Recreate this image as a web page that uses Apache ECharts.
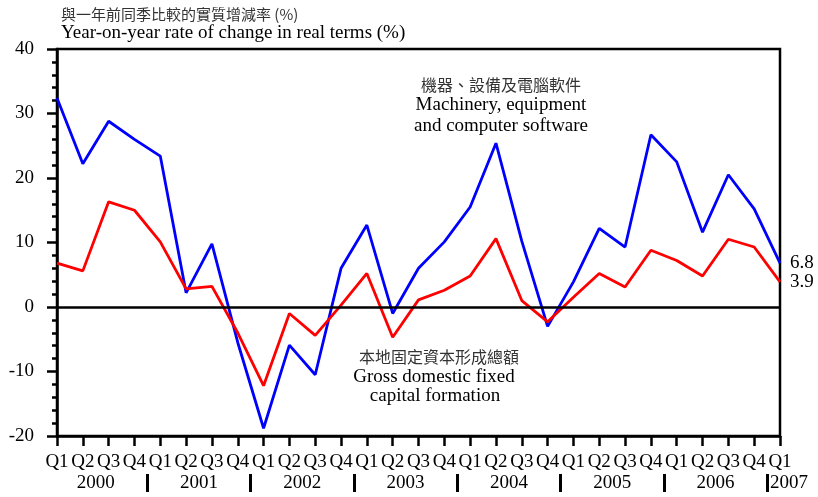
<!DOCTYPE html>
<html>
<head>
<meta charset="utf-8">
<script src="https://cdn.jsdelivr.net/npm/echarts@6/dist/echarts.min.js"></script>
<style>
  html, body { margin: 0; padding: 0; background: #fff; }
  #chart { width: 818px; height: 497px; }
</style>
</head>
<body>
<div id="chart"></div>
<script>
// quarters 2000 Q1 .. 2007 Q1
var quarters = ['Q1','Q2','Q3','Q4','Q1','Q2','Q3','Q4','Q1','Q2','Q3','Q4','Q1','Q2','Q3','Q4',
                'Q1','Q2','Q3','Q4','Q1','Q2','Q3','Q4','Q1','Q2','Q3','Q4','Q1'];
var years = ['2000','2001','2002','2003','2004','2005','2006','2007'];

// machinery, equipment and computer software (%)
var machinery = [32.4, 22.2, 28.8, 26.0, 23.4, 2.2, 9.8, -5.5, -18.8, -5.9, -10.5, 6.0, 12.7, -1.0, 6.0,
                 10.1, 15.5, 25.4, 10.2, -3.0, 3.9, 12.2, 9.3, 26.7, 22.5, 11.6, 20.5, 15.2, 6.8];
// gross domestic fixed capital formation (%)
var gdfcf = [6.8, 5.6, 16.3, 15.0, 10.1, 2.8, 3.2, -4.0, -12.2, -1.0, -4.4, 0.3, 5.2, -4.7, 1.1,
             2.6, 4.8, 10.6, 1.0, -2.3, 1.5, 5.2, 3.1, 8.8, 7.2, 4.8, 10.5, 9.3, 3.9];

var serif = 'Liberation Serif';
var cjk = 'Noto Sans CJK TC';

// half-quarter slots for the year row: labels in middle of each year, bars at year boundaries
var halfSlots = [];
for (var i = 0; i < quarters.length * 2 - 1; i++) halfSlots.push(String(i));

function yearLabel(idx) {
  idx = Number(idx);
  if (idx === halfSlots.length - 1) return '{last|' + years[years.length - 1] + '}';
  if (idx % 8 === 3) return years[(idx - 3) / 8];
  return '';
}

function note(x, y, text, cn) {
  return {
    type: 'text', x: x, y: y,
    style: {
      text: text, align: 'center', verticalAlign: 'middle',
      font: cn ? '16px "' + cjk + '"' : '19px "' + serif + '"',
      fill: cn ? '#333' : '#000'
    }
  };
}

var el = echarts.init(document.getElementById('chart'));
var opt = {
  animation: false,
  title: {
    text: '與一年前同季比較的實質增減率 (%)',
    subtext: 'Year-on-year rate of change in real terms (%)',
    left: 56, top: 2, itemGap: 2,
    textStyle: { fontFamily: cjk, fontSize: 15, fontWeight: 'normal', color: '#333' },
    subtextStyle: { fontFamily: serif, fontSize: 19, color: '#000' }
  },
  grid: { left: 57, right: 38, top: 49, bottom: 61, show: true, borderColor: '#000', borderWidth: 2.5 },
  xAxis: [{
    type: 'category', data: quarters, boundaryGap: false,
    axisLine: { onZero: false, lineStyle: { color: '#000', width: 2.5 } },
    axisTick: { length: 10, lineStyle: { color: '#000', width: 2.5 } },
    axisLabel: { interval: 0, margin: 17, color: '#000', fontFamily: serif, fontSize: 19 },
    splitLine: { show: false }
  }, {
    type: 'category', data: halfSlots, boundaryGap: false, position: 'bottom', offset: 38,
    axisLine: { show: false, onZero: false },
    axisTick: { interval: function (i) { return i % 8 === 7; }, length: 18,
                lineStyle: { color: '#000', width: 3 } },
    axisLabel: {
      interval: function (i) { return i % 8 === 3 || i === halfSlots.length - 1; },
      formatter: yearLabel, margin: 0, color: '#000', fontFamily: serif, fontSize: 19,
      rich: { last: { fontFamily: serif, fontSize: 19, color: '#000', padding: [0, 0, 0, 18] } }
    }
  }],
  yAxis: {
    type: 'value', min: -20, max: 40, interval: 10,
    axisLine: { show: true, lineStyle: { color: '#000', width: 2.5 } },
    axisTick: { show: true, length: 10, lineStyle: { color: '#000', width: 2.5 } },
    minorTick: { show: true, splitNumber: 5, length: 5, lineStyle: { color: '#000', width: 2.5 } },
    axisLabel: { margin: 23, color: '#000', fontFamily: serif, fontSize: 19 },
    splitLine: { show: false }
  },
  series: [{
    name: 'Machinery, equipment and computer software', type: 'line', data: machinery,
    showSymbol: false, lineStyle: { color: '#0000ff', width: 2.8 }, itemStyle: { color: '#0000ff' },
    endLabel: { show: true, formatter: '{c}', distance: 10, color: '#000', fontFamily: serif, fontSize: 19 },
    markLine: {
      silent: true, symbol: 'none', label: { show: false },
      lineStyle: { color: '#000', width: 2.5, type: 'solid' },
      data: [{ yAxis: 0 }]
    }
  }, {
    name: 'Gross domestic fixed capital formation', type: 'line', data: gdfcf,
    showSymbol: false, lineStyle: { color: '#ff0000', width: 2.8 }, itemStyle: { color: '#ff0000' },
    endLabel: { show: true, formatter: '{c}', distance: 10, color: '#000', fontFamily: serif, fontSize: 19 }
  }],
  graphic: [
    note(501, 85, '機器、設備及電腦軟件', true),
    note(501, 105, 'Machinery, equipment'),
    note(501, 126, 'and computer software'),
    note(439, 357, '本地固定資本形成總額', true),
    note(434, 377, 'Gross domestic fixed'),
    note(435, 396, 'capital formation')
  ]
};
el.setOption(opt);
</script>
</body>
</html>
